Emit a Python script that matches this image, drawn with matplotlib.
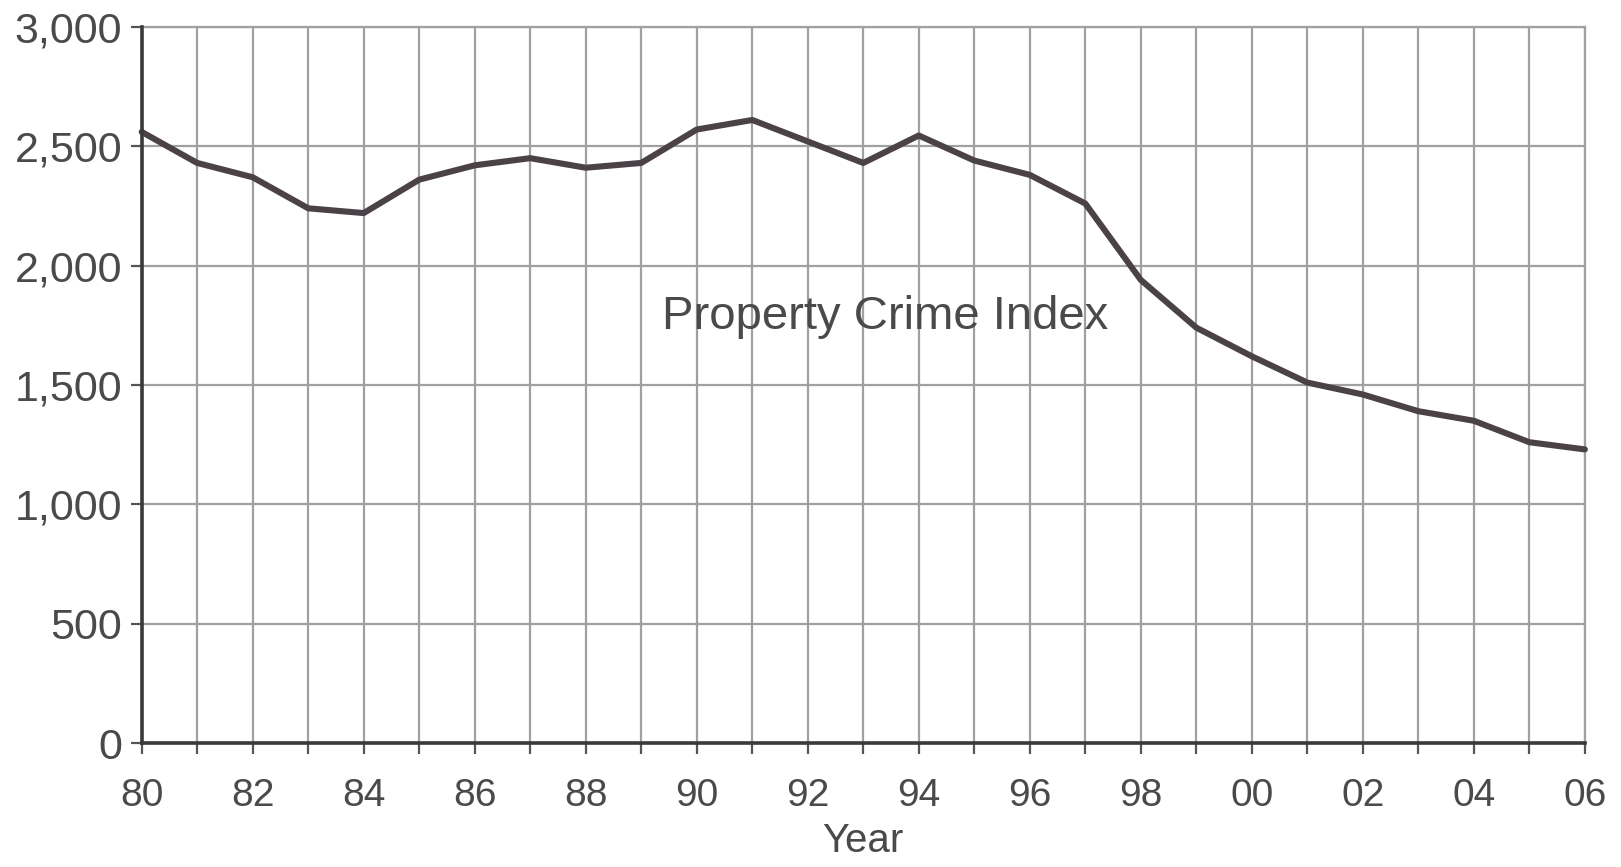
import matplotlib
matplotlib.use("Agg")
import matplotlib.pyplot as plt
from matplotlib.ticker import FuncFormatter, MultipleLocator

years = list(range(1980, 2007))
property_crime = [2560, 2430, 2370, 2240, 2220, 2360, 2420, 2450, 2410, 2430,
                  2570, 2610, 2520, 2430, 2545, 2440, 2380, 2260, 1940, 1740,
                  1620, 1510, 1460, 1390, 1350, 1260, 1230]
xtick_years = list(range(1980, 2007, 2))
xtick_labels = [f"{y % 100:02d}" for y in xtick_years]
yticks = [0, 500, 1000, 1500, 2000, 2500, 3000]
series_label = "Property Crime Index"
x_label = "Year"

plt.rcParams['font.family'] = ['Liberation Sans', 'DejaVu Sans']
text_color = "#4a4a4a"

fig = plt.figure(figsize=(16.21, 8.67), dpi=100)
ax = fig.add_axes([0.0874, 0.143, 0.8903, 0.826])

ax.plot(years, property_crime, color="#4b4248", lw=4.4, solid_joinstyle="round",
        solid_capstyle="round", zorder=3, clip_on=False)

ax.set_xlim(1980, 2006)
ax.set_ylim(0, 3000)
ax.set_xticks(xtick_years)
ax.set_xticklabels(xtick_labels)
ax.xaxis.set_minor_locator(MultipleLocator(1))
ax.set_yticks(yticks)
ax.yaxis.set_major_formatter(FuncFormatter(lambda v, p: f"{int(v):,}"))

ax.grid(True, which="both", axis="x", color="#a0a0a0", lw=1.6)
ax.grid(True, which="major", axis="y", color="#a0a0a0", lw=1.6)
ax.set_axisbelow(True)

for s in ["top", "right"]:
    ax.spines[s].set_color("#a0a0a0")
    ax.spines[s].set_linewidth(1.6)
for s in ["left", "bottom"]:
    ax.spines[s].set_color("#3a3a3a")
    ax.spines[s].set_linewidth(2.6)
    ax.spines[s].set_zorder(4)

ax.tick_params(axis="both", which="both", direction="out", length=8, width=1.6,
               color="#555555", labelcolor=text_color)
ax.tick_params(axis="x", labelsize=28, pad=17)
ax.tick_params(axis="y", labelsize=31, pad=6)

ax.set_xlabel(x_label, fontsize=29, color=text_color, labelpad=6)
ax.text(1993.4, 1783, series_label, fontsize=34, color=text_color,
        ha="center", va="center")

fig.savefig("out.png", dpi=100, facecolor="white")
